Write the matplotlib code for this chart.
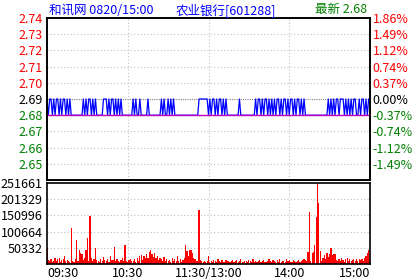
#!/usr/bin/env python3
"""
Intraday time-share chart of 农业银行 [601288]: price panel plus volume panel.
"""

import numpy as np
import matplotlib.pyplot as plt

plt.rcParams['font.family'] = ['Noto Sans CJK SC', 'DejaVu Sans']

# price ticks: '1' = 2.69, '0' = 2.68 (one char per minute, 09:30 .. 15:00)
tick_pattern = "".join([
    "101101011010110101", "000000000", "10101101010", "0000", "111",
    "01011010101", "0000000", "01010", "0", "10", "0000", "1",
    "000000000", "1010", "0", "101010", "0000000000000000",
    "01111111", "01011010110101", "000000000", "10", "0000000000",
    "10110101101010", "101101011010110101101010", "000000000000000",
    "0101010", "11011101", "01010110", "0101101011",
])
price_hi = 2.69
price_lo = 2.68
avg_price = 2.68
prev_close = 2.69

# volume per minute, in thousands of shares
volume_k = [
    50, 12, 8, 15, 6, 10, 18, 9, 14, 20, 7, 11, 16, 24, 9, 13, 8, 5,
    111, 10, 6, 14, 74, 8, 43, 34, 30, 12, 18, 42, 82, 10, 150, 20, 8, 15,
    50, 12, 10, 6, 14, 8, 22, 12, 9, 16, 7, 24, 11, 13, 53, 8, 15, 10, 6,
    12, 18, 9, 59, 10, 7, 12, 15, 10, 8, 14, 6, 18, 10, 25, 28, 12, 26, 20,
    30, 18, 38, 42, 30, 22, 35, 18, 25, 12, 20, 15, 10, 22, 8, 14, 10, 12,
    6, 18, 9, 14, 8, 25, 10, 15, 7, 12, 20, 59, 40, 25, 45, 42, 35, 20, 15,
    10, 8, 168, 12, 8, 6, 10, 5, 8, 24,
    # afternoon
    6, 10, 5, 12, 8, 6, 14, 9, 5, 11, 7, 6, 13, 8, 10, 5, 9, 12, 6, 8,
    11, 5, 9, 15, 7, 6, 10, 8, 5, 12, 9, 6, 14, 7, 10, 5, 8, 11, 6, 9,
    13, 7, 5, 10, 15, 8, 6, 12, 9, 5, 11, 7, 14, 6, 10, 8, 5, 15, 9, 12,
    7, 6, 13, 8, 5, 10, 12, 6, 9, 11, 15, 12, 8, 38, 161, 8, 35, 38, 60,
    147, 251.661, 189, 40, 10, 20, 28, 15, 35, 22, 30, 50, 28, 32, 32, 12,
    10, 15, 8, 18, 12, 6, 14, 20, 10, 15, 8, 12, 15, 8, 14, 10, 16, 12, 15,
    10, 20, 25, 35, 42, 10,
]
vol_ticks = [50332, 100664, 150996, 201329, 251661]
vol_max = 251661

price_levels = [2.65, 2.66, 2.67, 2.68, 2.69, 2.70, 2.71, 2.72, 2.73, 2.74]
time_pos = [0, 60, 120, 180, 240]
time_labels = ["09:30", "10:30", "11:30/13:00", "14:00", "15:00"]

RED = '#ff0000'
GREEN = '#008000'
BLUE = '#0000ff'
FS = 9

price = np.array([price_hi if c == '1' else price_lo for c in tick_pattern])
minutes = np.arange(len(price))
volume = np.array(volume_k) * 1000

fig = plt.figure(figsize=(4.2, 2.8), dpi=100)
ax = fig.add_axes([47 / 420, 1 - 180 / 280, 323 / 420, 162 / 280])
axv = fig.add_axes([47 / 420, 1 - 264 / 280, 323 / 420, 81 / 280])

grid_kw = dict(color='#c0c0c0', lw=0.8, ls=(0, (1, 2)), zorder=0)

# price panel
for lv in price_levels[:-1]:
    if abs(lv - prev_close) < 1e-9:
        ax.axhline(lv, color='#808080', lw=0.8, ls=(0, (1, 1)), zorder=0)
    else:
        ax.axhline(lv, **grid_kw)
for t in time_pos[1:-1]:
    ax.axvline(t, **grid_kw)
ax.plot(minutes, price, color=BLUE, lw=0.9, zorder=2)
ax.axhline(avg_price, color='#c000c0', lw=1.0, zorder=3)
ax.set_xlim(0, len(price) - 1)
ax.set_ylim(2.64, 2.74)
ax.set_xticks([])
ax.set_yticks(price_levels)
ax.set_yticklabels([f"{v:.2f}" for v in price_levels], fontsize=FS)
ax.tick_params(axis='y', length=0, pad=3)

axr = ax.twinx()
axr.set_ylim(2.64, 2.74)
axr.set_yticks(price_levels)
axr.set_yticklabels([f"{(v / prev_close - 1) * 100:.2f}%" for v in price_levels],
                    fontsize=FS)
axr.tick_params(axis='y', length=0, pad=2)

for lab_l, lab_r, lv in zip(ax.get_yticklabels(), axr.get_yticklabels(), price_levels):
    if lv > prev_close + 1e-9:
        col = RED
    elif lv < prev_close - 1e-9:
        col = GREEN
    else:
        col = 'black'
    lab_l.set_color(col)
    lab_r.set_color(col)

for a in (ax, axr, axv):
    for s in a.spines.values():
        s.set_linewidth(1.2)

# header
fig.text(49 / 420, 1 - 10 / 280, "和讯网 0820/15:00", color=BLUE,
         fontsize=FS, va='center', ha='left')
fig.text(226 / 420, 1 - 10 / 280, "农业银行[601288]", color=BLUE,
         fontsize=FS, va='center', ha='center')
fig.text(367 / 420, 1 - 10 / 280, "最新 2.68", color=GREEN,
         fontsize=FS, va='center', ha='right')

# volume panel
for v in vol_ticks[:-1]:
    axv.axhline(v, **grid_kw)
for t in time_pos[1:-1]:
    axv.axvline(t, **grid_kw)
axv.bar(minutes, volume, width=0.9, color=RED, lw=0, zorder=2)
axv.set_xlim(0, len(price) - 1)
axv.set_ylim(0, vol_max)
axv.set_yticks(vol_ticks)
axv.set_yticklabels([str(v) for v in vol_ticks], fontsize=FS)
axv.tick_params(axis='y', length=0, pad=3)
axv.set_xticks(time_pos)
axv.set_xticklabels(time_labels, fontsize=FS)
axv.tick_params(axis='x', length=0, pad=2)
xl = axv.get_xticklabels()
xl[0].set_ha('left')
xl[-1].set_ha('right')

fig.savefig("out.png", dpi=100)
